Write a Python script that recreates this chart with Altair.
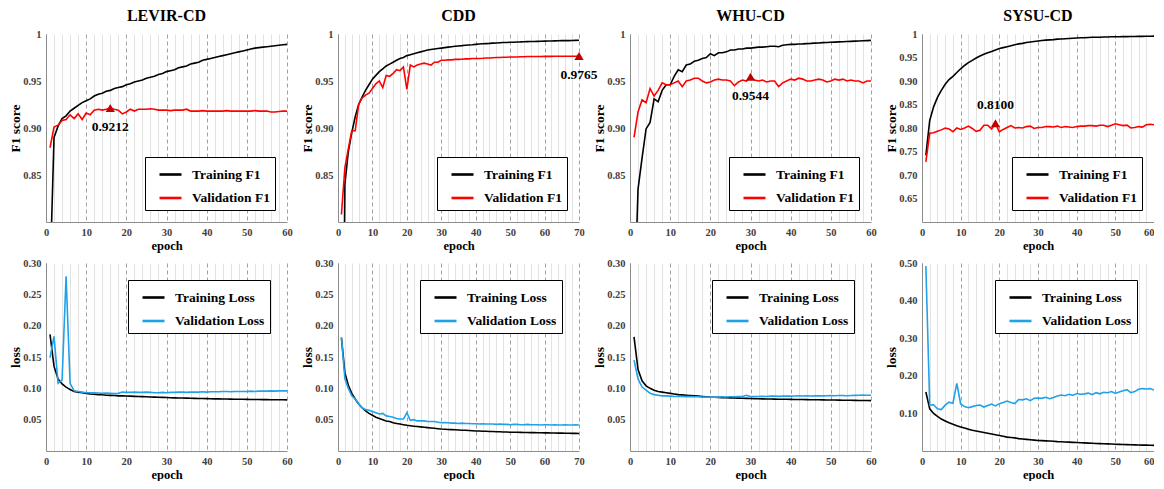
import altair as alt
import pandas as pd

SERIF = "Liberation Serif"

DATASETS = ["LEVIR-CD", "CDD", "WHU-CD", "SYSU-CD"]
F1_NAMES = ["Training F1", "Validation F1"]
LOSS_NAMES = ["Training Loss", "Validation Loss"]
F1_COLORS = ["#000000", "#ff0000"]
LOSS_COLORS = ["#000000", "#1fa2ea"]

# ---------------- F1 curves ----------------
LEVIR_TRAIN_F1 = [0.74, 0.890, 0.902, 0.910, 0.913, 0.918, 0.921, 0.924, 0.927, 0.929,
                  0.931, 0.934, 0.936, 0.937, 0.939, 0.940, 0.942, 0.943, 0.944, 0.946,
                  0.947, 0.949, 0.950, 0.951, 0.953, 0.954, 0.955, 0.957, 0.958, 0.960,
                  0.961, 0.962, 0.964, 0.965, 0.966, 0.968, 0.969, 0.970, 0.972, 0.973,
                  0.974, 0.975, 0.976, 0.977, 0.978, 0.979, 0.980, 0.981, 0.982, 0.983,
                  0.984, 0.985, 0.9855, 0.986, 0.9865, 0.987, 0.9875, 0.988, 0.9885, 0.989]
LEVIR_VAL_F1 = [0.879, 0.901, 0.903, 0.908, 0.909, 0.914, 0.910, 0.915, 0.909, 0.916,
                0.914, 0.919, 0.920, 0.919, 0.920, 0.9212, 0.920, 0.919, 0.915, 0.917,
                0.920, 0.918, 0.920, 0.920, 0.920, 0.9205, 0.920, 0.919, 0.919, 0.919,
                0.9185, 0.919, 0.919, 0.919, 0.920, 0.918, 0.918, 0.918, 0.9185, 0.918,
                0.918, 0.918, 0.918, 0.918, 0.9185, 0.918, 0.918, 0.918, 0.918, 0.918,
                0.918, 0.9185, 0.918, 0.918, 0.918, 0.917, 0.917, 0.9175, 0.918, 0.918]

CDD_TRAIN_F1 = [0.45, 0.840, 0.875, 0.895, 0.912, 0.925, 0.933, 0.940, 0.946, 0.952,
                0.956, 0.960, 0.963, 0.966, 0.968, 0.970, 0.972, 0.974, 0.975, 0.977,
                0.978, 0.979, 0.980, 0.981, 0.982, 0.983, 0.9835, 0.984, 0.9845, 0.985,
                0.9855, 0.986, 0.9865, 0.987, 0.9873, 0.9876, 0.988, 0.9883, 0.9886, 0.989,
                0.9893, 0.9896, 0.9898, 0.990, 0.9903, 0.9905, 0.9907, 0.9909, 0.991, 0.9912,
                0.9913, 0.9915, 0.9916, 0.9918, 0.9919, 0.992, 0.9921, 0.9922, 0.9923, 0.9924,
                0.9925, 0.9926, 0.9927, 0.9928, 0.9929, 0.993, 0.993, 0.9931, 0.9932, 0.9933]
CDD_VAL_F1 = [0.808, 0.858, 0.878, 0.897, 0.897, 0.925, 0.932, 0.935, 0.937, 0.942,
              0.947, 0.950, 0.943, 0.956, 0.955, 0.958, 0.962, 0.961, 0.965, 0.941,
              0.967, 0.965, 0.967, 0.968, 0.969, 0.968, 0.967, 0.970, 0.970, 0.972,
              0.972, 0.9725, 0.9725, 0.973, 0.973, 0.9732, 0.9735, 0.9735, 0.974, 0.974,
              0.974, 0.9742, 0.9745, 0.9745, 0.9748, 0.975, 0.975, 0.9752, 0.9752, 0.9755,
              0.9755, 0.9755, 0.9758, 0.9758, 0.976, 0.976, 0.976, 0.976, 0.976, 0.9762,
              0.9762, 0.9762, 0.9763, 0.9763, 0.9763, 0.9764, 0.9764, 0.9764, 0.9764, 0.9765]

WHU_TRAIN_F1 = [0.70, 0.835, 0.868, 0.899, 0.906, 0.931, 0.928, 0.940, 0.946, 0.946,
                0.955, 0.962, 0.960, 0.967, 0.968, 0.971, 0.972, 0.974, 0.975, 0.979,
                0.977, 0.980, 0.980, 0.981, 0.983, 0.983, 0.984, 0.984, 0.985, 0.985,
                0.9855, 0.986, 0.986, 0.9865, 0.987, 0.987, 0.9865, 0.988, 0.9885, 0.989,
                0.989, 0.9893, 0.9895, 0.9898, 0.990, 0.9903, 0.9905, 0.9908, 0.991, 0.9912,
                0.9914, 0.9916, 0.9918, 0.992, 0.9922, 0.9924, 0.9926, 0.9928, 0.993, 0.9932]
WHU_VAL_F1 = [0.890, 0.917, 0.930, 0.927, 0.942, 0.934, 0.940, 0.948, 0.946, 0.946,
              0.948, 0.950, 0.944, 0.950, 0.951, 0.953, 0.953, 0.950, 0.948, 0.949,
              0.951, 0.952, 0.951, 0.951, 0.950, 0.945, 0.949, 0.951, 0.950, 0.9544,
              0.951, 0.950, 0.951, 0.949, 0.950, 0.950, 0.944, 0.948, 0.950, 0.952,
              0.951, 0.953, 0.952, 0.950, 0.950, 0.951, 0.952, 0.951, 0.949, 0.950,
              0.952, 0.951, 0.952, 0.950, 0.951, 0.950, 0.950, 0.948, 0.950, 0.950]

SYSU_TRAIN_F1 = [0.742, 0.816, 0.845, 0.865, 0.880, 0.893, 0.903, 0.910, 0.918, 0.926,
                 0.933, 0.939, 0.944, 0.949, 0.953, 0.957, 0.960, 0.963, 0.966, 0.969,
                 0.971, 0.973, 0.975, 0.977, 0.979, 0.980, 0.982, 0.983, 0.984, 0.985,
                 0.986, 0.987, 0.9875, 0.988, 0.989, 0.9895, 0.990, 0.9905, 0.991, 0.9915,
                 0.992, 0.992, 0.9925, 0.993, 0.993, 0.9932, 0.9935, 0.9937, 0.994, 0.994,
                 0.9942, 0.9944, 0.9945, 0.9947, 0.9948, 0.995, 0.995, 0.9952, 0.9953, 0.9955]
SYSU_VAL_F1 = [0.728, 0.789, 0.790, 0.793, 0.796, 0.800, 0.798, 0.792, 0.800, 0.797,
               0.800, 0.804, 0.799, 0.793, 0.795, 0.806, 0.806, 0.798, 0.810, 0.792,
               0.797, 0.801, 0.805, 0.800, 0.801, 0.800, 0.803, 0.804, 0.799, 0.801,
               0.801, 0.803, 0.803, 0.802, 0.804, 0.801, 0.803, 0.802, 0.801, 0.803,
               0.804, 0.804, 0.805, 0.805, 0.804, 0.806, 0.806, 0.803, 0.806, 0.809,
               0.807, 0.805, 0.806, 0.800, 0.801, 0.803, 0.802, 0.807, 0.808, 0.807]

# ---------------- Loss curves ----------------
LEVIR_TRAIN_LOSS = [0.186, 0.135, 0.115, 0.107, 0.102, 0.098, 0.095, 0.094, 0.093, 0.092,
                    0.091, 0.0905, 0.090, 0.0897, 0.089, 0.0888, 0.0885, 0.088, 0.088, 0.0878,
                    0.0875, 0.0872, 0.087, 0.0868, 0.0865, 0.0862, 0.086, 0.0858, 0.0855, 0.0853,
                    0.085, 0.0848, 0.0846, 0.0845, 0.0843, 0.0841, 0.084, 0.0838, 0.0837, 0.0835,
                    0.0834, 0.0832, 0.0831, 0.083, 0.0829, 0.0828, 0.0827, 0.0826, 0.0825, 0.0824,
                    0.0823, 0.0822, 0.0821, 0.082, 0.082, 0.0819, 0.0818, 0.0818, 0.0817, 0.0816]
LEVIR_VAL_LOSS = [0.149, 0.183, 0.108, 0.113, 0.279, 0.108, 0.096, 0.095, 0.094, 0.093,
                  0.093, 0.093, 0.0925, 0.092, 0.0925, 0.092, 0.0915, 0.092, 0.094, 0.0935,
                  0.0935, 0.094, 0.0935, 0.0935, 0.094, 0.0935, 0.093, 0.093, 0.0935, 0.093,
                  0.0935, 0.0935, 0.094, 0.094, 0.0935, 0.094, 0.094, 0.094, 0.0945, 0.094,
                  0.0945, 0.0945, 0.0945, 0.095, 0.095, 0.0945, 0.095, 0.095, 0.095, 0.095,
                  0.0955, 0.095, 0.0955, 0.0955, 0.0955, 0.096, 0.0955, 0.096, 0.096, 0.096]

CDD_TRAIN_LOSS = [0.180, 0.125, 0.105, 0.092, 0.083, 0.075, 0.069, 0.064, 0.060, 0.057,
                  0.054, 0.052, 0.050, 0.048, 0.047, 0.045, 0.044, 0.043, 0.042, 0.041,
                  0.0403, 0.0396, 0.039, 0.0385, 0.038, 0.0373, 0.0367, 0.0362, 0.0356, 0.035,
                  0.0347, 0.0344, 0.0341, 0.0338, 0.0335, 0.0332, 0.033, 0.0327, 0.0323, 0.032,
                  0.0318, 0.0316, 0.0314, 0.0312, 0.031, 0.0308, 0.0306, 0.0304, 0.0302, 0.030,
                  0.0299, 0.0298, 0.0297, 0.0296, 0.0295, 0.0294, 0.0293, 0.0292, 0.0291, 0.029,
                  0.0289, 0.0288, 0.0287, 0.0286, 0.0285, 0.0284, 0.0283, 0.0282, 0.0281, 0.028]
CDD_VAL_LOSS = [0.182, 0.115, 0.100, 0.088, 0.083, 0.075, 0.069, 0.066, 0.065, 0.063,
                0.061, 0.059, 0.060, 0.056, 0.055, 0.054, 0.052, 0.051, 0.051, 0.061,
                0.049, 0.050, 0.048, 0.048, 0.048, 0.047, 0.047, 0.047, 0.046, 0.045,
                0.0455, 0.045, 0.0445, 0.0445, 0.044, 0.0445, 0.044, 0.044, 0.0435, 0.0435,
                0.043, 0.0435, 0.043, 0.043, 0.043, 0.0425, 0.043, 0.0425, 0.0425, 0.042,
                0.0425, 0.0425, 0.042, 0.042, 0.0425, 0.042, 0.042, 0.042, 0.0415, 0.042,
                0.042, 0.0415, 0.042, 0.0415, 0.0415, 0.042, 0.0415, 0.0415, 0.042, 0.0415]

WHU_TRAIN_LOSS = [0.182, 0.130, 0.112, 0.104, 0.100, 0.097, 0.095, 0.094, 0.093, 0.092,
                  0.091, 0.090, 0.0895, 0.089, 0.0885, 0.088, 0.0875, 0.087, 0.0865, 0.086,
                  0.0858, 0.0855, 0.0852, 0.085, 0.0848, 0.0846, 0.0844, 0.0842, 0.084, 0.0838,
                  0.0836, 0.0834, 0.0832, 0.083, 0.0829, 0.0828, 0.0827, 0.0826, 0.0825, 0.0824,
                  0.0823, 0.0822, 0.0821, 0.082, 0.0819, 0.0818, 0.0817, 0.0816, 0.0815, 0.0814,
                  0.0813, 0.0812, 0.0811, 0.081, 0.0809, 0.0808, 0.0807, 0.0806, 0.0805, 0.0804]
WHU_VAL_LOSS = [0.145, 0.115, 0.102, 0.097, 0.092, 0.090, 0.089, 0.088, 0.088, 0.0875,
                0.087, 0.087, 0.087, 0.0868, 0.087, 0.0865, 0.0865, 0.086, 0.0862, 0.086,
                0.0862, 0.086, 0.0865, 0.0862, 0.0865, 0.0865, 0.0868, 0.087, 0.089, 0.0868,
                0.087, 0.087, 0.0872, 0.087, 0.0875, 0.0875, 0.0872, 0.0875, 0.0878, 0.0875,
                0.0878, 0.088, 0.0878, 0.088, 0.0878, 0.088, 0.0882, 0.088, 0.0882, 0.0885,
                0.0882, 0.0885, 0.0885, 0.0882, 0.0885, 0.0888, 0.089, 0.0892, 0.089, 0.089]

SYSU_TRAIN_LOSS = [0.157, 0.112, 0.100, 0.092, 0.085, 0.080, 0.075, 0.071, 0.067, 0.064,
                   0.061, 0.058, 0.055, 0.053, 0.051, 0.049, 0.047, 0.045, 0.043, 0.041,
                   0.039, 0.037, 0.036, 0.035, 0.033, 0.032, 0.031, 0.030, 0.029, 0.028,
                   0.0275, 0.027, 0.0265, 0.026, 0.025, 0.0245, 0.024, 0.0235, 0.023, 0.0225,
                   0.022, 0.0215, 0.021, 0.0205, 0.020, 0.0197, 0.0193, 0.019, 0.0185, 0.018,
                   0.0177, 0.0174, 0.017, 0.0167, 0.0164, 0.016, 0.0157, 0.0155, 0.0152, 0.015]
SYSU_VAL_LOSS = [0.492, 0.122, 0.123, 0.112, 0.110, 0.122, 0.130, 0.127, 0.180, 0.125,
                 0.118, 0.115, 0.118, 0.121, 0.122, 0.117, 0.121, 0.125, 0.120, 0.126,
                 0.129, 0.133, 0.129, 0.126, 0.137, 0.136, 0.139, 0.134, 0.140, 0.141,
                 0.140, 0.143, 0.139, 0.142, 0.146, 0.149, 0.147, 0.151, 0.148, 0.153,
                 0.151, 0.152, 0.154, 0.150, 0.155, 0.152, 0.156, 0.155, 0.158, 0.153,
                 0.157, 0.160, 0.163, 0.155, 0.158, 0.164, 0.166, 0.165, 0.166, 0.162]

# best validation F1 markers
BEST_EPOCH = [16, 70, 30, 19]
BEST_F1 = [0.9212, 0.9765, 0.9544, 0.8100]
BEST_LABEL = ["0.9212", "0.9765", "0.9544", "0.8100"]
BEST_LABEL_ABOVE = [False, False, False, True]

X_MAX = [60, 70, 60, 60]
F1_DOMAIN = [[0.80, 1.0], [0.80, 1.0], [0.80, 1.0], [0.60, 1.0]]
F1_TICKS = [[0.85, 0.90, 0.95, 1.0]] * 3 + [[0.65, 0.70, 0.75, 0.80, 0.85, 0.90, 0.95, 1.0]]
LOSS_DOMAIN = [[0.0, 0.30], [0.0, 0.30], [0.0, 0.30], [0.0, 0.50]]
LOSS_TICKS = [[0.05, 0.10, 0.15, 0.20, 0.25, 0.30]] * 3 + [[0.10, 0.20, 0.30, 0.40, 0.50]]

WIDTHS = [241, 241, 241, 232]
H = 188

MAJOR = "datum.value % 10 == 0"


def x_axis(xmax, last_right):
    kw = {}
    if last_right:
        kw["labelAlign"] = alt.condition(f"datum.value == {xmax}", alt.value("right"), alt.value("center"))
    return alt.Axis(
        values=list(range(0, xmax + 1, 2)),
        labelExpr=f"{MAJOR} ? datum.label : ''",
        title="epoch",
        grid=True,
        gridColor=alt.condition(MAJOR, alt.value("#a0a0a0"), alt.value("#e2e2e2")),
        gridDash=alt.condition(MAJOR, alt.value([4, 3]), alt.value([])),
        gridWidth=1,
        ticks=False,
        domainColor="#8c8c8c",
        labelFont=SERIF, labelFontSize=10.5, labelFontWeight="bold", labelColor="#404040",
        labelFlush=False, labelOverlap=False, labelPadding=5,
        titleFont=SERIF, titleFontSize=12.5, titleFontWeight="bold", titleColor="#000000",
        titlePadding=2, **kw,
    )


def y_axis(ticks, title, f1):
    expr = "datum.value > 0.999 ? '1' : format(datum.value, '.2f')" if f1 else "format(datum.value, '.2f')"
    return alt.Axis(
        values=ticks, labelExpr=expr, title=title, grid=False, ticks=False,
        domainColor="#8c8c8c",
        labelFont=SERIF, labelFontSize=10.5, labelFontWeight="bold", labelColor="#404040",
        labelPadding=5, labelOverlap=False, minExtent=22, maxExtent=22,
        titleFont=SERIF, titleFontSize=13.5, titleFontWeight="bold", titleColor="#000000",
        titlePadding=2,
    )


def legend(orient, offset):
    return alt.Legend(
        title=None, orient=orient, offset=offset,
        strokeColor="#000000", fillColor="#ffffff", padding=5,
        symbolType="stroke", symbolStrokeWidth=2.6, symbolSize=484,
        symbolOffset=8, labelOffset=9, rowPadding=4.5,
        labelFont=SERIF, labelFontSize=13.5, labelFontWeight="bold", labelColor="#000000",
        labelLimit=300,
    )


def panel(train, val, names, colors, ydom, yticks, ytitle, xmax, width, last_right, f1,
          leg_orient, leg_offset, title=None, best=None):
    n = len(train)
    df = pd.DataFrame({
        "epoch": list(range(1, n + 1)) * 2,
        "value": list(train) + list(val),
        "series": [names[0]] * n + [names[1]] * n,
    })
    x = alt.X("epoch:Q", scale=alt.Scale(domain=[0, xmax], nice=False, zero=False),
              axis=x_axis(xmax, last_right))
    y = alt.Y("value:Q", scale=alt.Scale(domain=ydom, nice=False, zero=False),
              axis=y_axis(yticks, ytitle, f1))
    color = alt.Color("series:N", scale=alt.Scale(domain=names, range=colors),
                      legend=legend(leg_orient, leg_offset))
    line = alt.Chart(df).mark_line(strokeWidth=1.6, clip=True).encode(
        x=x, y=y, color=color, order="epoch:Q")
    layers = [line]
    if best is not None:
        be, bv, bl, above = best
        bdf = pd.DataFrame({"epoch": [be], "value": [bv], "label": [bl]})
        tri = alt.Chart(bdf).mark_point(shape="triangle-up", filled=True, color="#c00000",
                                        size=85, opacity=1).encode(x=x, y=y)
        txt = alt.Chart(bdf).mark_text(dy=-18 if above else 19, font=SERIF, fontSize=13.5,
                                       fontWeight="bold", color="#000000").encode(
            x=x, y=y, text="label:N")
        layers += [tri, txt]
    ch = alt.layer(*layers).properties(width=width, height=H)
    if title is not None:
        ch = ch.properties(title=alt.TitleParams(title, font=SERIF, fontSize=16, fontWeight="bold",
                                                 color="#000000", offset=5))
    return ch


F1_TRAIN = [LEVIR_TRAIN_F1, CDD_TRAIN_F1, WHU_TRAIN_F1, SYSU_TRAIN_F1]
F1_VAL = [LEVIR_VAL_F1, CDD_VAL_F1, WHU_VAL_F1, SYSU_VAL_F1]
LOSS_TRAIN = [LEVIR_TRAIN_LOSS, CDD_TRAIN_LOSS, WHU_TRAIN_LOSS, SYSU_TRAIN_LOSS]
LOSS_VAL = [LEVIR_VAL_LOSS, CDD_VAL_LOSS, WHU_VAL_LOSS, SYSU_VAL_LOSS]

top = []
bottom = []
for i, name in enumerate(DATASETS):
    last = i == len(DATASETS) - 1
    top.append(panel(F1_TRAIN[i], F1_VAL[i], F1_NAMES, F1_COLORS, F1_DOMAIN[i], F1_TICKS[i],
                     "F1 score", X_MAX[i], WIDTHS[i], last, True, "bottom-right", 12, title=name,
                     best=(BEST_EPOCH[i], BEST_F1[i], BEST_LABEL[i], BEST_LABEL_ABOVE[i])))
    bottom.append(panel(LOSS_TRAIN[i], LOSS_VAL[i], LOSS_NAMES, LOSS_COLORS, LOSS_DOMAIN[i],
                        LOSS_TICKS[i], "loss", X_MAX[i], WIDTHS[i], last, False, "top-right", 17))

chart = alt.concat(*top, *bottom, columns=4, spacing={"row": 41, "column": 51},
                   bounds="flush").resolve_scale(color="independent").properties(
    padding={"left": 0, "top": 0, "right": 0, "bottom": 0},
    background="#ffffff",
).configure_view(stroke=None)

chart.save("out.html", embed_options={"renderer": "svg", "actions": False})
